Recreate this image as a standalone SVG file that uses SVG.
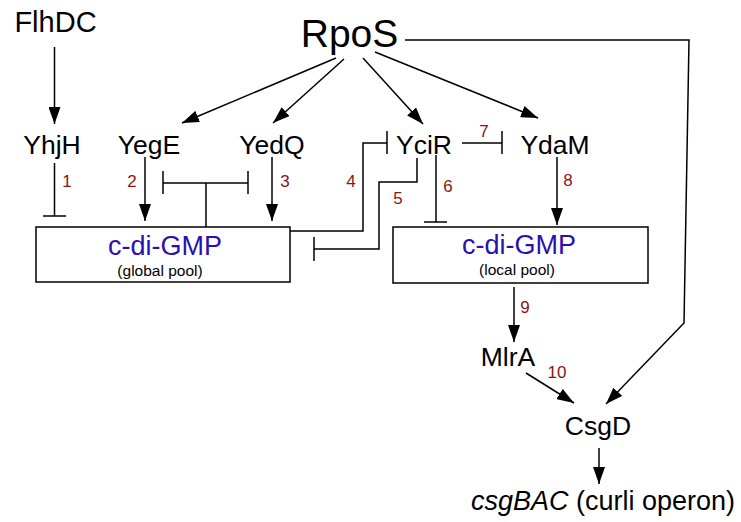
<svg xmlns="http://www.w3.org/2000/svg" width="741" height="522" viewBox="0 0 741 522">
<style>
text{font-family:"Liberation Sans",Arial,sans-serif;fill:#000}
.n{font-size:26.5px;text-anchor:middle}
.num{font-size:17px;fill:#8b1414;text-anchor:middle}
.gmp{font-size:27px;fill:#2b10b0;text-anchor:middle}
.pool{font-size:15.5px;text-anchor:middle}
.l{fill:none;stroke:#000;stroke-width:1.5}
.box{fill:#fff;stroke:#000;stroke-width:1.5}
</style>
<defs>
<marker id="ah" markerUnits="userSpaceOnUse" markerWidth="18" markerHeight="12" refX="17" refY="6" orient="auto">
<path d="M0,0 L17,6 L0,12 z" fill="#000"/>
</marker>
</defs>
<g id="connectors">
<line class="l" x1="54.5" y1="47" x2="54.5" y2="124" marker-end="url(#ah)"/>
<line class="l" x1="336" y1="58" x2="182" y2="123" marker-end="url(#ah)"/>
<line class="l" x1="344" y1="59" x2="273" y2="123" marker-end="url(#ah)"/>
<line class="l" x1="363" y1="58" x2="423" y2="124" marker-end="url(#ah)"/>
<line class="l" x1="375" y1="52" x2="538" y2="118" marker-end="url(#ah)"/>
<polyline class="l" points="405,40 689,40 684,323 606,404" marker-end="url(#ah)"/>
<line class="l" x1="54.5" y1="163" x2="54.5" y2="216"/>
<line class="l" x1="43" y1="216" x2="66" y2="216"/>
<line class="l" x1="145" y1="157" x2="145" y2="221" marker-end="url(#ah)"/>
<line class="l" x1="163" y1="183" x2="248" y2="183"/>
<line class="l" x1="163" y1="171" x2="163" y2="194"/>
<line class="l" x1="248" y1="171" x2="248" y2="194"/>
<line class="l" x1="206" y1="183" x2="206" y2="227"/>
<line class="l" x1="272" y1="157" x2="272" y2="221" marker-end="url(#ah)"/>
<polyline class="l" points="290,231 363,231 363,143 387,143"/>
<line class="l" x1="387" y1="131" x2="387" y2="154"/>
<polyline class="l" points="417,158 417,182 379,182 379,249 314,249"/>
<line class="l" x1="314" y1="237" x2="314" y2="261"/>
<line class="l" x1="436" y1="155" x2="436" y2="222"/>
<line class="l" x1="424" y1="222" x2="447" y2="222"/>
<line class="l" x1="462" y1="143" x2="502" y2="143"/>
<line class="l" x1="502" y1="131" x2="502" y2="154"/>
<line class="l" x1="557" y1="157" x2="557" y2="225" marker-end="url(#ah)"/>
<line class="l" x1="514" y1="287" x2="514" y2="342" marker-end="url(#ah)"/>
<line class="l" x1="526" y1="373" x2="574" y2="403" marker-end="url(#ah)"/>
<line class="l" x1="599" y1="448" x2="599" y2="484" marker-end="url(#ah)"/>
</g>
<g id="labels">
<text class="num" x="67" y="187">1</text>
<text class="num" x="132" y="187">2</text>
<text class="num" x="285" y="187">3</text>
<text class="num" x="351" y="187">4</text>
<text class="num" x="398" y="204">5</text>
<text class="num" x="448" y="192">6</text>
<text class="num" x="484" y="137">7</text>
<text class="num" x="568" y="186">8</text>
<text class="num" x="525" y="313">9</text>
<text class="num" x="557" y="378">10</text>
</g>
<g id="FlhDC"><text x="55.5" y="32" style="font-size:29px;text-anchor:middle">FlhDC</text></g>
<g id="RpoS"><text x="349.5" y="47" style="font-size:39px;text-anchor:middle">RpoS</text></g>
<g id="YhjH"><text class="n" x="52" y="154">YhjH</text></g>
<g id="YegE"><text class="n" x="149" y="154">YegE</text></g>
<g id="YedQ"><text class="n" x="272" y="154">YedQ</text></g>
<g id="YciR"><text class="n" x="424" y="154">YciR</text></g>
<g id="YdaM"><text class="n" x="555" y="154">YdaM</text></g>
<g id="globalPool">
<rect class="box" x="36" y="227" width="254" height="55"/>
<text class="gmp" x="165" y="255">c-di-GMP</text>
<text class="pool" x="160" y="276">(global pool)</text>
</g>
<g id="localPool">
<rect class="box" x="393" y="227" width="255" height="56"/>
<text class="gmp" x="519" y="254">c-di-GMP</text>
<text class="pool" x="517" y="275">(local pool)</text>
</g>
<g id="MlrA"><text class="n" x="508" y="366">MlrA</text></g>
<g id="CsgD"><text class="n" x="598" y="435">CsgD</text></g>
<g id="csgBAC"><text x="603" y="510" style="font-size:27px;text-anchor:middle"><tspan font-style="italic">csgBAC</tspan> (curli operon)</text></g>
</svg>
